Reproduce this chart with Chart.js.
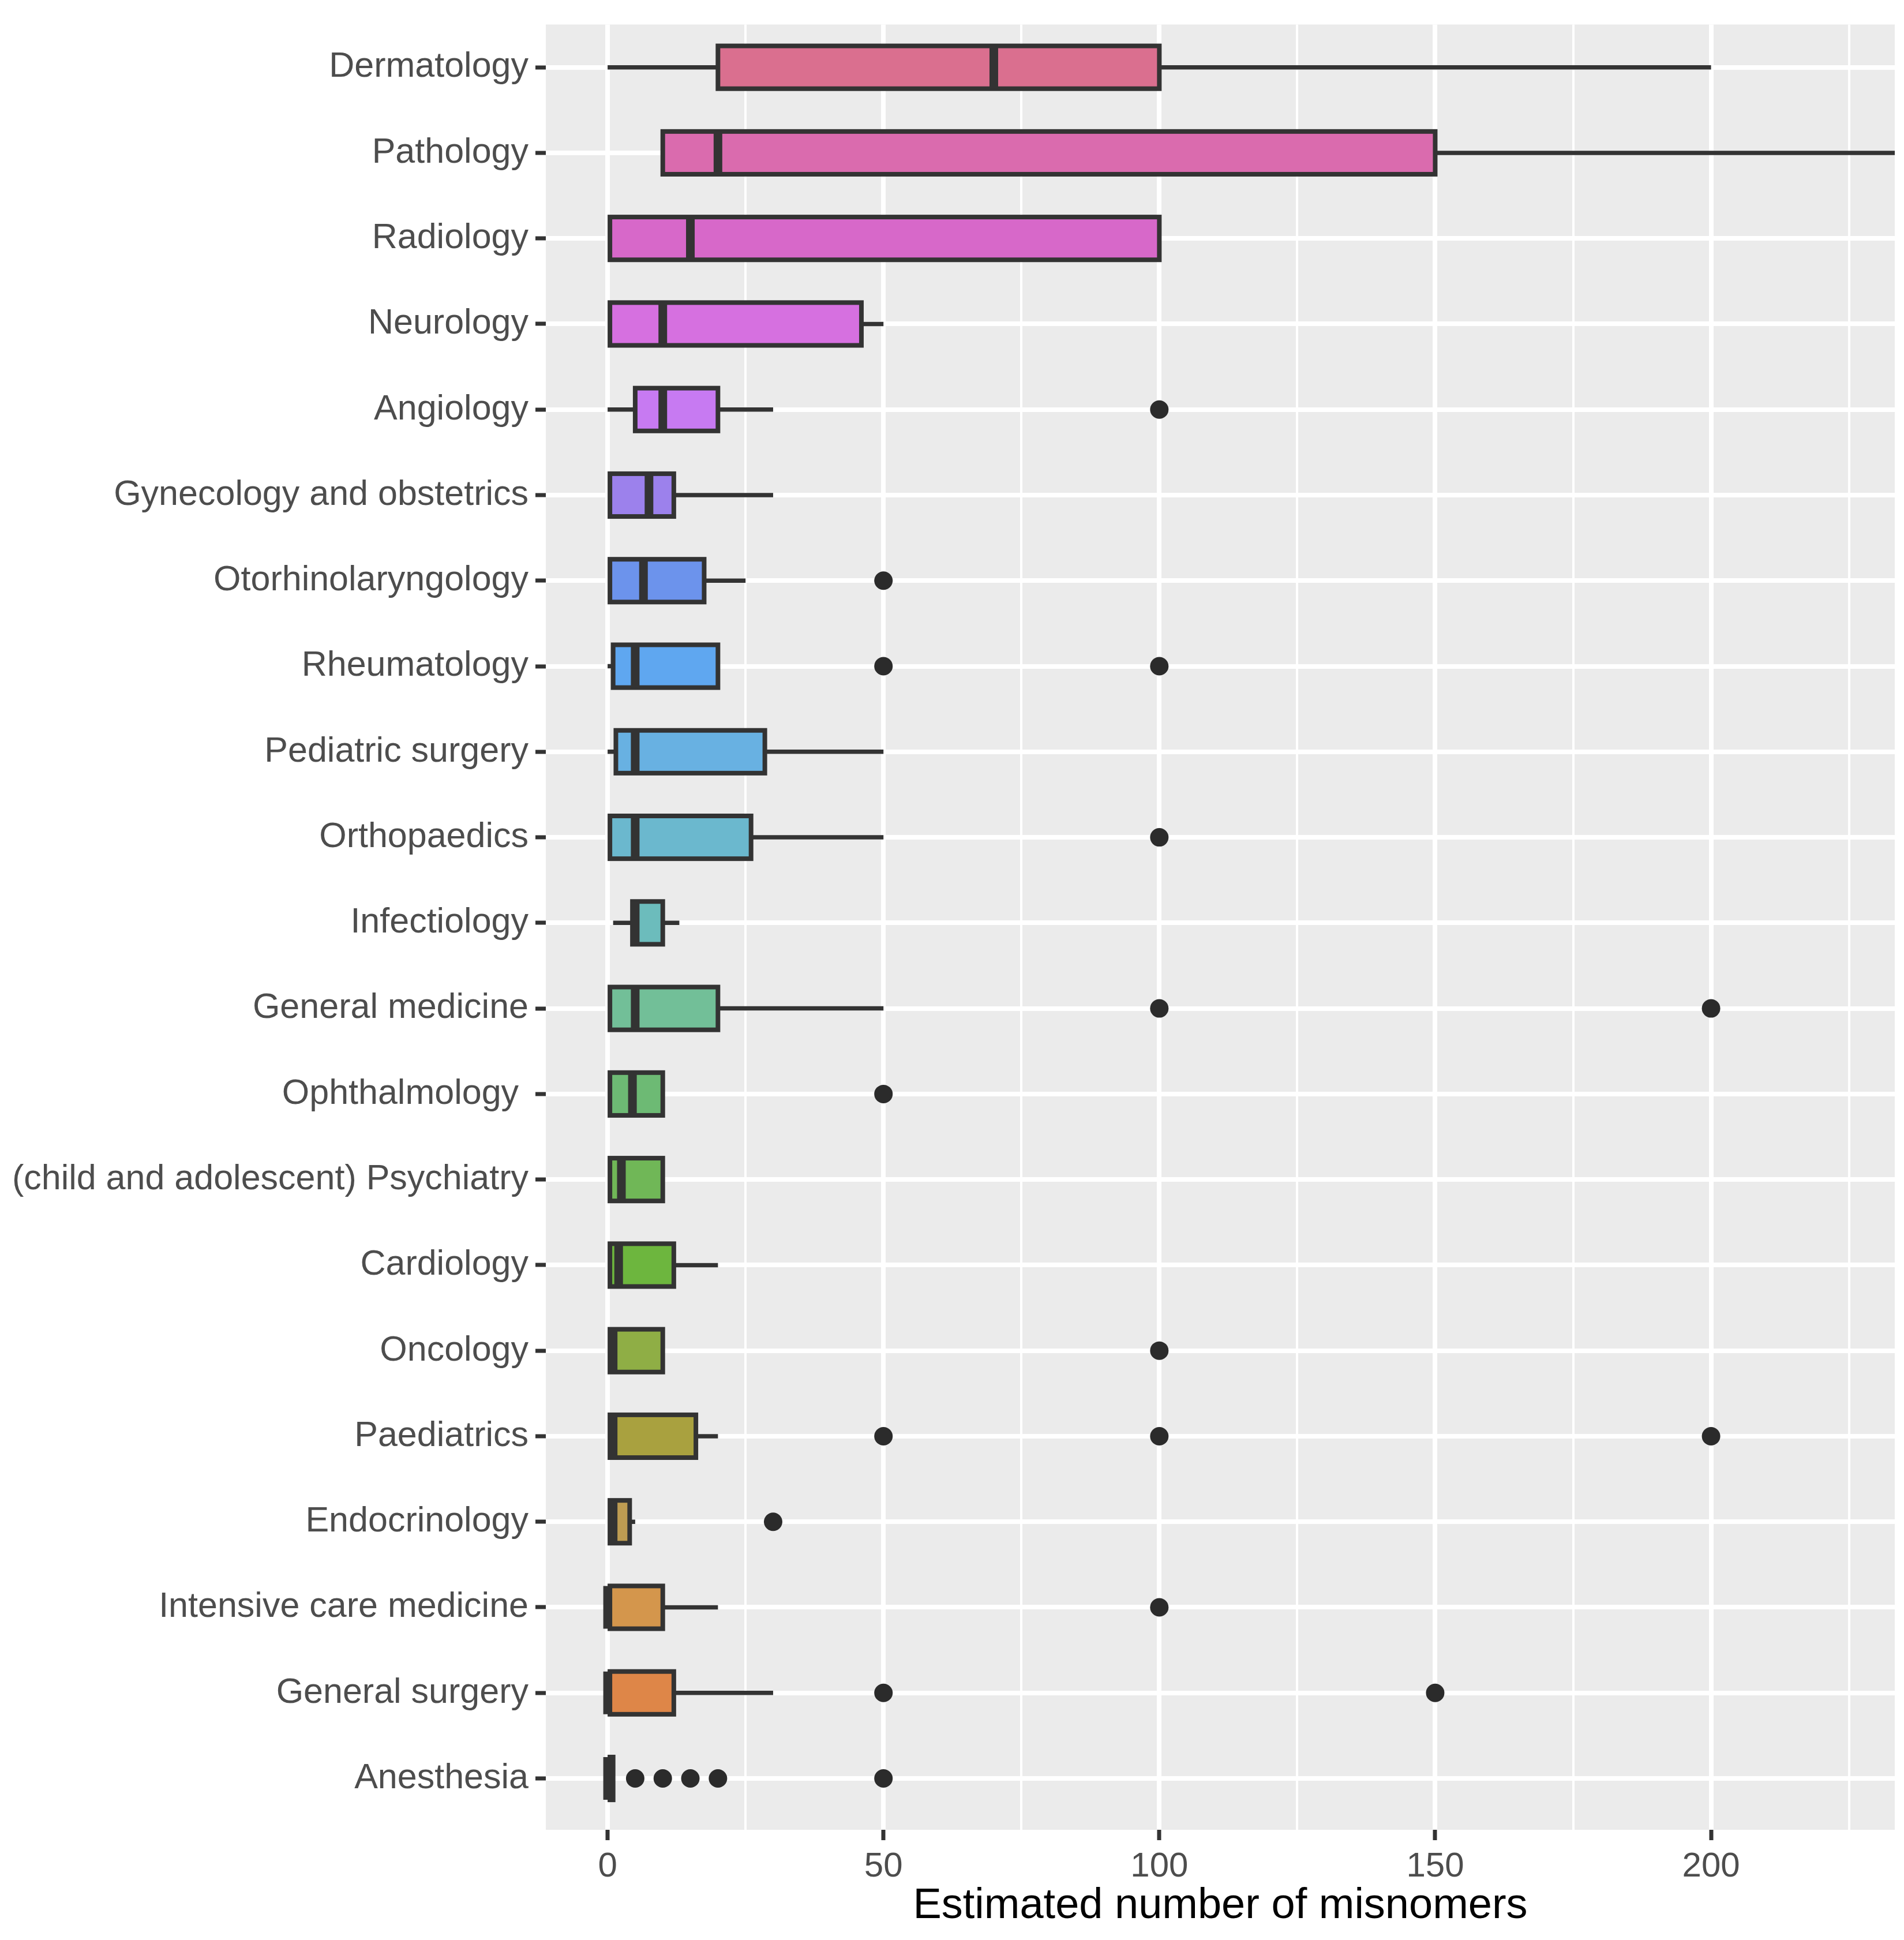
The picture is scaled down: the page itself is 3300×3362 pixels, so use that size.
<!DOCTYPE html>
<html>
<head>
<meta charset="utf-8">
<script src="https://cdn.jsdelivr.net/npm/chart.js@4.4.1/dist/chart.umd.min.js"></script>
<style>
html,body{margin:0;padding:0;background:#ffffff;}
#wrap{width:3300px;height:3362px;position:relative;}
</style>
</head>
<body>
<div id="wrap"><canvas id="c"></canvas></div>
<script>
// ---- data (top row to bottom row) ----
const categories = [
  "Dermatology", "Pathology", "Radiology", "Neurology", "Angiology",
  "Gynecology and obstetrics", "Otorhinolaryngology", "Rheumatology",
  "Pediatric surgery", "Orthopaedics", "Infectiology", "General medicine",
  "Ophthalmology ", "(child and adolescent) Psychiatry", "Cardiology",
  "Oncology", "Paediatrics", "Endocrinology", "Intensive care medicine",
  "General surgery", "Anesthesia"
];
const whiskerLow  = [0, 10, 0, 0, 0, 0, 0, 0, 0, 0, 1, 0, 0, 0, 0, 0, 0, 0, 0, 0, 0];
const q1          = [20, 10, 0, 0, 5, 0, 0, 1, 1.5, 0, 4.5, 0, 0, 0, 0, 0, 0, 0, 0, 0, 0];
const medians     = [70, 20, 15, 10, 10, 7.5, 6.5, 5, 5, 5, 5, 5, 4.5, 2.5, 2, 1, 1, 1, 0, 0, 0];
const q3          = [100, 150, 100, 46, 20, 12, 17.5, 20, 28.5, 26, 10, 20, 10, 10, 12, 10, 16, 4, 10, 12, 1];
const whiskerHigh = [200, 250, 100, 50, 30, 30, 25, 20, 50, 50, 13, 50, 10, 10, 20, 10, 20, 5, 20, 30, 1];
const outliers = [
  [], [], [], [], [100], [], [50], [50, 100], [], [100], [], [100, 200],
  [50], [], [], [100], [50, 100, 200], [30], [100], [50, 150], [5, 10, 15, 20, 50]
];
const xTickValues = [0, 50, 100, 150, 200];
const xTickLabels = ["0", "50", "100", "150", "200"];
const xMinorValues = [25, 75, 125, 175, 225];
const xAxisTitle = "Estimated number of misnomers";

// ---- styles ----
const fillColors = [
  "#DA6F8F", "#DA6BAE", "#D768C9", "#D670E0", "#C77AF2",
  "#9C81EC", "#6C93EC", "#5FA7F0", "#68B1E2", "#6BB8CE",
  "#6CBCBC", "#72BF98", "#6DBA74", "#70B757", "#6DB63E",
  "#8FAE45", "#A9A13F", "#BE9C52", "#D4964C", "#DE8648", "#E47A6F"
];
const INK = "#333333";
const PANEL = "#EBEBEB";
const FONT = "'Liberation Sans', Arial, Helvetica, sans-serif";
Chart.defaults.font.family = FONT;

const boxPlugin = {
  id: 'boxplotParts',
  beforeDraw(chart) {
    const {ctx, chartArea: a} = chart;
    ctx.save();
    ctx.fillStyle = '#ffffff';
    ctx.fillRect(0, 0, chart.width, chart.height);
    ctx.fillStyle = PANEL;
    ctx.fillRect(a.left, a.top, a.right - a.left, a.bottom - a.top);
    ctx.restore();
  },
  beforeDatasetsDraw(chart) {
    const {ctx, chartArea: a, scales: {x, y}} = chart;
    ctx.save();
    ctx.beginPath();
    ctx.rect(a.left, a.top, a.right - a.left, a.bottom - a.top);
    ctx.clip();
    ctx.strokeStyle = INK;
    ctx.lineWidth = 7.5;
    ctx.lineCap = 'butt';
    categories.forEach((c, i) => {
      const yp = y.getPixelForValue(i);
      if (whiskerLow[i] < q1[i]) {
        ctx.beginPath();
        ctx.moveTo(x.getPixelForValue(whiskerLow[i]), yp);
        ctx.lineTo(x.getPixelForValue(q1[i]), yp);
        ctx.stroke();
      }
      if (whiskerHigh[i] > q3[i]) {
        ctx.beginPath();
        ctx.moveTo(x.getPixelForValue(q3[i]), yp);
        ctx.lineTo(x.getPixelForValue(whiskerHigh[i]), yp);
        ctx.stroke();
      }
    });
    ctx.restore();
  },
  afterDatasetDraw(chart, args) {
    if (args.index !== 0) return;
    const {ctx, chartArea: a, scales: {x}} = chart;
    ctx.save();
    ctx.beginPath();
    ctx.rect(a.left, a.top, a.right - a.left, a.bottom - a.top);
    ctx.clip();
    ctx.strokeStyle = INK;
    args.meta.data.forEach((el, i) => {
      const p = el.getProps(['x', 'y', 'base', 'height'], true);
      const left = Math.min(p.x, p.base), right = Math.max(p.x, p.base);
      const top = p.y - p.height / 2;
      ctx.lineWidth = 8;
      ctx.strokeRect(left, top, right - left, p.height);
      const mx = x.getPixelForValue(medians[i]);
      ctx.lineWidth = 15;
      ctx.beginPath();
      ctx.moveTo(mx, top);
      ctx.lineTo(mx, top + p.height);
      ctx.stroke();
    });
    ctx.restore();
  }
};

const boxData = categories.map((c, i) => ({x: [q1[i], q3[i]], y: i}));
const outlierData = [];
outliers.forEach((list, i) => list.forEach(v => outlierData.push({x: v, y: i})));

new Chart(document.getElementById('c'), {
  type: 'bar',
  data: {
    datasets: [
      {
        type: 'bar',
        data: boxData,
        backgroundColor: fillColors,
        borderWidth: 0,
        barPercentage: 0.5,
        categoryPercentage: 1.0,
        grouped: false
      },
      {
        type: 'scatter',
        data: outlierData,
        pointRadius: 16,
        pointHoverRadius: 16,
        pointBackgroundColor: '#2b2b2b',
        pointBorderWidth: 0,
        showLine: false
      }
    ]
  },
  options: {
    indexAxis: 'y',
    responsive: true,
    maintainAspectRatio: false,
    devicePixelRatio: 1,
    animation: false,
    events: [],
    layout: {padding: {top: 35, left: 0, right: 0, bottom: 0}},
    plugins: {legend: {display: false}, tooltip: {enabled: false}},
    scales: {
      x: {
        type: 'linear',
        position: 'bottom',
        min: -11.2,
        max: 233.3,
        bounds: 'data',
        offset: false,
        afterBuildTicks: s => {
          s.ticks = xTickValues.concat(xMinorValues).sort((a, b) => a - b).map(v => ({value: v}));
        },
        ticks: {
          autoSkip: false,
          maxRotation: 0,
          padding: 10,
          color: '#4D4D4D',
          font: {size: 60},
          callback: v => {
            const k = xTickValues.indexOf(v);
            return k >= 0 ? xTickLabels[k] : '';
          }
        },
        grid: {
          offset: false,
          color: '#FFFFFF',
          lineWidth: c => (c.tick && xTickValues.indexOf(c.tick.value) >= 0) ? 8 : 4,
          drawTicks: true,
          tickLength: 18,
          tickWidth: 7,
          tickColor: c => (c.tick && xTickValues.indexOf(c.tick.value) >= 0) ? INK : 'rgba(0,0,0,0)'
        },
        border: {display: false},
        title: {
          display: true,
          text: xAxisTitle,
          color: '#000000',
          font: {size: 74},
          padding: {top: 0, bottom: 14}
        },
        afterFit: s => { s.height = 191; }
      },
      y: {
        type: 'linear',
        position: 'left',
        reverse: true,
        min: -0.5,
        max: 20.6,
        bounds: 'data',
        offset: false,
        afterBuildTicks: s => { s.ticks = categories.map((c, i) => ({value: i})); },
        ticks: {
          autoSkip: false,
          padding: 12,
          color: '#4D4D4D',
          font: {size: 61, lineHeight: 1.0},
          callback: v => categories[v]
        },
        grid: {
          offset: false,
          color: '#FFFFFF',
          lineWidth: 8,
          drawTicks: true,
          tickLength: 18,
          tickWidth: 7,
          tickColor: INK
        },
        border: {display: false},
        afterFit: s => { s.width = 946; }
      }
    }
  },
  plugins: [boxPlugin]
});
</script>
</body>
</html>
